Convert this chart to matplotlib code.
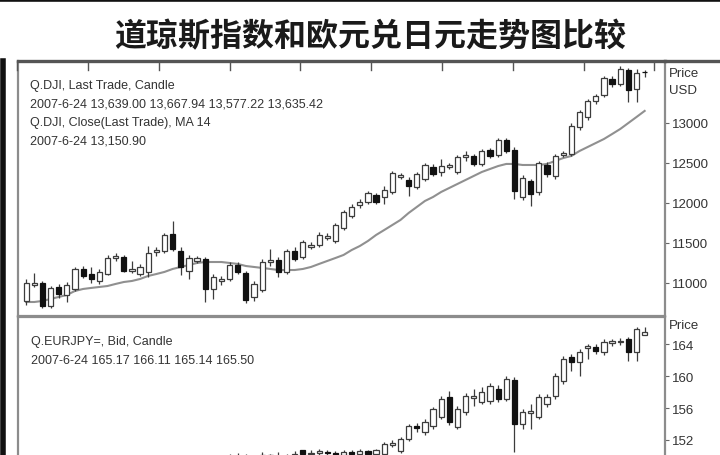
import numpy as np
import matplotlib
matplotlib.use("Agg")
import matplotlib.pyplot as plt
from matplotlib.lines import Line2D

# ---------------- data ----------------
title = "道琼斯指数和欧元兑日元走势图比较"

dji_open = [10775, 10975, 11000, 10712, 10950, 10850, 10925, 11175, 11112, 11025,
            11112, 11312, 11325, 11150, 11112, 11138, 11388, 11400, 11612, 11400,
            11150, 11275, 11300, 10925, 11025, 11050, 11225, 11125, 10825, 10912,
            11262, 11288, 11138, 11400, 11325, 11450, 11475, 11562, 11525, 11688,
            11838, 11975, 12012, 12100, 12075, 12138, 12325, 12288, 12200, 12300,
            12450, 12388, 12450, 12388, 12575, 12588, 12488, 12662, 12600, 12788,
            12662, 12075, 12275, 12138, 12475, 12338, 12600, 12612, 12950, 13075,
            13275, 13350, 13550, 13488, 13662, 13425, 13639.00]
dji_high = [11050, 11125, 11025, 10962, 10987, 11012, 11200, 11212, 11200, 11175,
            11350, 11375, 11350, 11275, 11238, 11462, 11450, 11625, 11775, 11450,
            11350, 11338, 11325, 11112, 11088, 11262, 11262, 11150, 11025, 11300,
            11425, 11325, 11425, 11450, 11538, 11512, 11638, 11625, 11750, 11912,
            11988, 12050, 12150, 12125, 12212, 12400, 12375, 12325, 12388, 12500,
            12488, 12550, 12500, 12600, 12650, 12612, 12675, 12688, 12812, 12812,
            12700, 12350, 12300, 12525, 12512, 12612, 12650, 13000, 13162, 13300,
            13362, 13588, 13588, 13712, 13688, 13675, 13667.94]
dji_low = [10725, 10950, 10688, 10688, 10812, 10762, 10900, 11062, 11000, 10987,
           11100, 11275, 11138, 11125, 11088, 11075, 11338, 11375, 11400, 11100,
           11050, 11250, 10762, 10800, 10975, 11025, 11112, 10750, 10775, 10888,
           11212, 11075, 11112, 11275, 11300, 11425, 11450, 11538, 11500, 11662,
           11812, 11938, 11988, 11988, 11988, 12112, 12300, 12088, 12175, 12275,
           12338, 12338, 12425, 12362, 12525, 12462, 12462, 12562, 12575, 12625,
           12050, 12038, 11962, 12100, 12325, 12300, 12575, 12588, 12912, 13038,
           13238, 13325, 13450, 13462, 13262, 13262, 13577.22]
dji_close = [11000, 11000, 10712, 10938, 10862, 10975, 11175, 11088, 11050, 11138,
             11312, 11338, 11150, 11175, 11200, 11375, 11412, 11600, 11425, 11200,
             11312, 11312, 10925, 11075, 11050, 11225, 11138, 10788, 10988, 11262,
             11288, 11138, 11400, 11300, 11512, 11475, 11600, 11588, 11725, 11888,
             11950, 12012, 12125, 12012, 12162, 12375, 12350, 12212, 12362, 12475,
             12362, 12462, 12475, 12575, 12600, 12488, 12650, 12588, 12788, 12650,
             12150, 12312, 12112, 12500, 12362, 12588, 12625, 12962, 13138, 13275,
             13338, 13562, 13488, 13675, 13412, 13625, 13635.42]
dji_ma14 = [10762, 10762, 10775, 10800, 10825, 10850, 10900, 10925, 10938, 10950,
            10962, 10988, 11012, 11025, 11050, 11088, 11112, 11138, 11175, 11200,
            11225, 11250, 11262, 11262, 11262, 11250, 11238, 11212, 11200, 11188,
            11175, 11162, 11162, 11162, 11175, 11200, 11238, 11275, 11312, 11350,
            11412, 11462, 11525, 11600, 11662, 11725, 11788, 11875, 11950, 12025,
            12075, 12138, 12188, 12238, 12288, 12338, 12388, 12425, 12462, 12488,
            12488, 12475, 12475, 12475, 12488, 12525, 12562, 12588, 12650, 12700,
            12750, 12800, 12862, 12925, 13000, 13075, 13150.90]
dji_yticks = [11000, 11500, 12000, 12500, 13000]

eur_first_week = 25
eur_open = [149.2, 149.9, 149.6, 149.4, 149.7, 150.1, 149.6, 150.0, 149.8, 150.7,
            150.2, 150.4, 150.5, 150.4, 150.1, 150.5, 150.2, 150.6, 150.3,
            150.25, 151.38, 150.62, 152.12, 153.75, 153.0, 153.75, 154.88, 157.38, 153.62,
            155.5, 157.25, 156.75, 156.88, 158.38, 157.12, 159.5, 154.0, 155.38, 154.88,
            156.5, 157.5, 159.38, 162.38, 161.75, 163.5, 163.62, 163.0, 164.12, 164.25,
            164.62, 163.0, 165.17]
eur_high = [150.2, 150.4, 150.3, 149.9, 150.5, 150.2, 150.5, 150.3, 150.6, 150.8,
            150.7, 150.9, 150.8, 150.6, 150.8, 150.7, 150.9, 150.8, 150.9,
            151.75, 152.0, 152.38, 154.0, 154.12, 154.62, 156.12, 157.5, 158.12, 156.25,
            157.88, 158.38, 158.62, 159.12, 158.88, 160.0, 159.88, 155.88, 156.5, 157.75,
            157.75, 160.38, 162.5, 162.75, 163.38, 164.0, 164.0, 164.62, 164.62, 164.75,
            164.88, 166.12, 166.11]
eur_low = [148.9, 149.3, 149.0, 148.8, 149.4, 149.3, 149.2, 149.5, 149.5, 150.0,
           149.8, 150.0, 150.0, 149.8, 149.9, 149.9, 150.0, 150.1, 150.1,
           150.0, 151.12, 150.38, 151.88, 153.0, 152.62, 153.38, 154.62, 153.88, 153.38,
           155.12, 156.25, 156.5, 156.5, 156.75, 156.88, 150.5, 153.38, 153.38, 154.62,
           156.12, 157.12, 159.0, 160.62, 160.0, 162.12, 162.75, 162.62, 163.75, 163.88,
           161.88, 161.88, 165.14]
eur_close = [149.9, 149.6, 149.4, 149.7, 150.1, 149.6, 150.0, 149.8, 150.3, 150.2,
             150.4, 150.6, 150.4, 150.1, 150.5, 150.2, 150.6, 150.3, 150.7,
             151.5, 151.62, 152.12, 153.75, 153.5, 154.25, 155.88, 157.12, 154.25, 155.88,
             157.5, 157.5, 158.0, 158.75, 157.12, 159.62, 154.0, 155.5, 155.62, 157.38,
             157.38, 160.0, 162.12, 161.75, 163.0, 163.75, 163.12, 164.25, 164.38, 164.38,
             163.0, 165.88, 165.5]
eur_yticks = [152, 156, 160, 164]

# two-month boundaries, in weeks from the first candle
month_marks = [-1.1, 7.6, 16.3, 25.0, 33.7, 42.4, 51.1, 59.8, 68.5, 77.2]

dji_text = ["Q.DJI, Last Trade, Candle",
            "2007-6-24 13,639.00 13,667.94 13,577.22 13,635.42",
            "Q.DJI, Close(Last Trade), MA 14",
            "2007-6-24 13,150.90"]
eur_text = ["Q.EURJPY=, Bid, Candle",
            "2007-6-24 165.17 166.11 165.14 165.50"]

# ---------------- figure ----------------
W, H = 720, 456
fig = plt.figure(figsize=(W / 100, H / 100), dpi=100)
fig.patch.set_facecolor("white")


def box(x0, y0, x1, y1):
    """pixel box (top-left origin) -> figure fraction rect"""
    return [x0 / W, 1 - y1 / H, (x1 - x0) / W, (y1 - y0) / H]


def fx(x):
    return x / W


def fy(y):
    return 1 - y / H


EDGE = "#3c3c3c"
SPINE = "#8c8c8c"
FONT = ["Liberation Sans", "DejaVu Sans"]


def draw_candles(ax, x, o, h, l, c, width=0.64):
    x = np.asarray(x, float)
    o, h, l, c = (np.asarray(v, float) for v in (o, h, l, c))
    up = c >= o
    ax.vlines(x, l, h, color=EDGE, lw=0.9, zorder=2)
    bottom = np.minimum(o, c)
    height = np.maximum(np.abs(c - o), 1e-6)
    ax.bar(x[up], height[up], width, bottom[up], facecolor="white",
           edgecolor=EDGE, linewidth=0.9, zorder=3)
    ax.bar(x[~up], height[~up], width, bottom[~up], facecolor="#111111",
           edgecolor="#111111", linewidth=0.9, zorder=3)


def style(ax):
    for s in ax.spines.values():
        s.set_color(SPINE)
        s.set_linewidth(1.6)
    ax.set_xticks([])
    ax.yaxis.tick_right()
    ax.tick_params(axis="y", direction="out", length=3, width=0.8, color="#666666",
                   pad=2, labelsize=9.5, labelcolor="#333333")
    for lab in ax.get_yticklabels():
        lab.set_fontfamily(FONT)


# ---- upper panel: Dow Jones
ax1 = fig.add_axes(box(18, 62, 665, 317))
n = len(dji_close)
weeks = np.arange(n)
draw_candles(ax1, weeks, dji_open, dji_high, dji_low, dji_close)
ax1.plot(weeks, dji_ma14, color="#909090", lw=1.5, zorder=1.5)
ax1.set_xlim(-1.0, 78.5)
ax1.set_ylim(10587, 13775)
style(ax1)
ax1.set_yticks(dji_yticks)
ax1.set_yticklabels([str(v) for v in dji_yticks])
ax1.spines["top"].set_color("#555555")
ax1.spines["top"].set_linewidth(2.4)
for m in month_marks:
    ax1.plot([m, m], [1.0, 0.965], transform=ax1.get_xaxis_transform(),
             color="#555555", lw=1.0, clip_on=False, zorder=5)

# ---- lower panel: EUR/JPY
ax2 = fig.add_axes(box(18, 318, 665, 456))
eur_weeks = np.arange(eur_first_week, eur_first_week + len(eur_close))
draw_candles(ax2, eur_weeks, eur_open, eur_high, eur_low, eur_close)
ax2.set_xlim(-1.0, 78.5)
ax2.set_ylim(150.12, 167.4)
style(ax2)
ax2.spines["bottom"].set_visible(False)
ax2.set_yticks(eur_yticks)
ax2.set_yticklabels([str(v) for v in eur_yticks])

# ---- frame decorations
fig.add_artist(Line2D([0, 1], [fy(1.2), fy(1.2)], color="#111111", lw=2.6))
fig.add_artist(Line2D([fx(665), 1], [fy(62), fy(62)], color="#555555", lw=2.4))
fig.add_artist(Line2D([fx(2.5), fx(2.5)], [fy(62), 0], color="#111111", lw=4))

# ---- texts
fig.text(fx(370), fy(37), title, ha="center", va="center", fontsize=23,
         fontweight="bold", family=["Noto Sans CJK SC", "DejaVu Sans"], color="#1a1a1a")

for i, s in enumerate(dji_text):
    fig.text(fx(30), fy(86 + i * 18.5), s, ha="left", va="center", fontsize=9,
             family=FONT, color="#333333")
for i, s in enumerate(eur_text):
    fig.text(fx(31), fy(342 + i * 19), s, ha="left", va="center", fontsize=9,
             family=FONT, color="#333333")

fig.text(fx(669), fy(74), "Price", ha="left", va="center", fontsize=9.5, family=FONT, color="#333333")
fig.text(fx(669), fy(91), "USD", ha="left", va="center", fontsize=9.5, family=FONT, color="#333333")
fig.text(fx(669), fy(326), "Price", ha="left", va="center", fontsize=9.5, family=FONT, color="#333333")

fig.savefig("out.png", dpi=100, facecolor="white")
